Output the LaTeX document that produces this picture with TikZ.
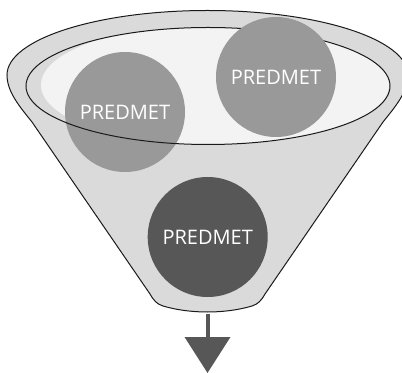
\documentclass[tikz,border=0pt]{standalone}
\usepackage{fontspec}
\setmainfont{Open Sans}
\usetikzlibrary{arrows.meta}
\definecolor{funnelgray}{RGB}{218,218,218}
\definecolor{bowllight}{RGB}{243,243,243}
\definecolor{ballmid}{RGB}{153,153,153}
\definecolor{balldark}{RGB}{87,87,87}

\begin{document}
\begin{tikzpicture}[x=0.75pt,y=0.75pt,yscale=-1,
  ball/.style={circle,minimum size=90pt,inner sep=0pt,text=white,font=\fontsize{15}{18}\selectfont},
  rim/.style={draw={rgb,255:red,26;green,26;blue,26},line width=0.75pt}]
\useasboundingbox (0,0) rectangle (402,373);

%Shape: Funnel body
\draw [rim,fill=funnelgray] (7,75) .. controls (7,92) and (20,107) .. (32,122) -- (150,294) .. controls (154,301) and (157,304) .. (163,306) .. controls (190,314) and (225,314) .. (252,306) .. controls (258,304) and (261,301) .. (265,294) -- (383,122) .. controls (395,107) and (408,92) .. (408,75) arc [start angle=0,end angle=-180,x radius=200.5,y radius=64.5] -- cycle ;
%Shape: Bowl surface
\begin{scope}
\clip (208,86) ellipse [x radius=182,y radius=58.5];
\fill [bowllight] (215,85) ellipse [x radius=174,y radius=61];
\end{scope}

% Circle Nodes
\node [ball,fill=ballmid] (predLeft) at (125,112) {PREDMET};
%Shape: Bowl rim
\draw [rim] (208,86) ellipse [x radius=182,y radius=58.5];
\node [ball,fill=ballmid] (predRight) at (276,77) {PREDMET};
\node [ball,fill=balldark] (predBottom) at (207.7,237) {PREDMET};

%Straight Lines: outlet arrow
\coordinate (spout) at (207.5,313.5);
\coordinate (outlet) at (207.5,373);
\draw [balldark,line width=3pt,-{Triangle[width=33.75pt,length=27pt]}] (spout) -- (outlet);

\end{tikzpicture}
\end{document}
